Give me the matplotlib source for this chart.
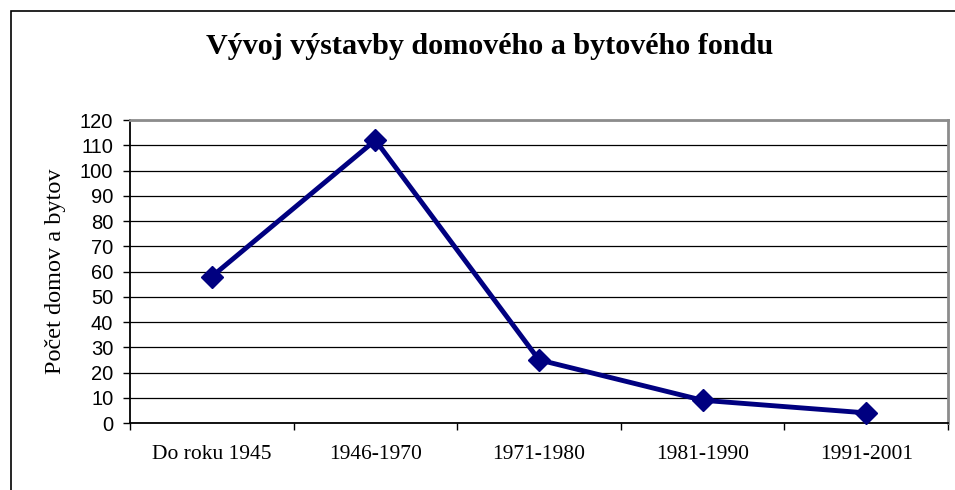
import matplotlib
matplotlib.use("Agg")
import matplotlib.pyplot as plt
from matplotlib.patches import Rectangle

# data
categories = ["Do roku 1945", "1946-1970", "1971-1980", "1981-1990", "1991-2001"]
values = [58, 112, 25, 9, 4]
yticks = list(range(0, 121, 10))

title = "Vývoj výstavby domového a bytového fondu"
ylabel = "Počet domov a bytov"

serif = ["Liberation Serif", "DejaVu Serif"]
sans = ["Liberation Sans", "DejaVu Sans"]

fig = plt.figure(figsize=(9.55, 4.9), dpi=100)
ax = fig.add_axes([130/955, 1-423/490, (948-130)/955, (423-120)/490])

x = list(range(len(categories)))
ax.plot(x, values, color="#000080", linewidth=3.5, marker="D", markersize=11.5,
        zorder=5, clip_on=False)

ax.set_xlim(-0.5, len(categories)-0.5)
ax.set_ylim(0, 120)
ax.set_yticks(yticks)
ax.set_yticklabels([str(v) for v in yticks], family=sans, fontsize=14.5)
ax.set_xticks(x)
ax.set_xticklabels(categories, family=serif, fontsize=15.5)
ax.tick_params(axis="x", which="major", length=0, pad=16)
# ticks between categories
ax.set_xticks([i-0.5 for i in range(len(categories)+1)], minor=True)
ax.tick_params(axis="x", which="minor", length=5, width=1, color="black")
ax.tick_params(axis="y", length=5, width=1, pad=7)

ax.yaxis.grid(True, color="black", linewidth=0.9)
ax.set_axisbelow(True)

for s in ["left", "bottom"]:
    ax.spines[s].set_color("black")
    ax.spines[s].set_linewidth(1.3)
for s in ["top", "right"]:
    ax.spines[s].set_color("#8c8c8c")
    ax.spines[s].set_linewidth(2)

ax.set_ylabel(ylabel, family=serif, fontsize=17.5, labelpad=10)

fig.text(490/955, 1-47/490, title, family=serif, fontsize=21.7, fontweight="bold",
         ha="center", va="center")

# outer chart frame (cut off on right and bottom)
fig.patches.append(Rectangle((11/955, -0.05), 1.0, 1-11/490+0.05, transform=fig.transFigure,
                             fill=False, edgecolor="black", linewidth=1.2))

fig.savefig("out.png", dpi=100)
